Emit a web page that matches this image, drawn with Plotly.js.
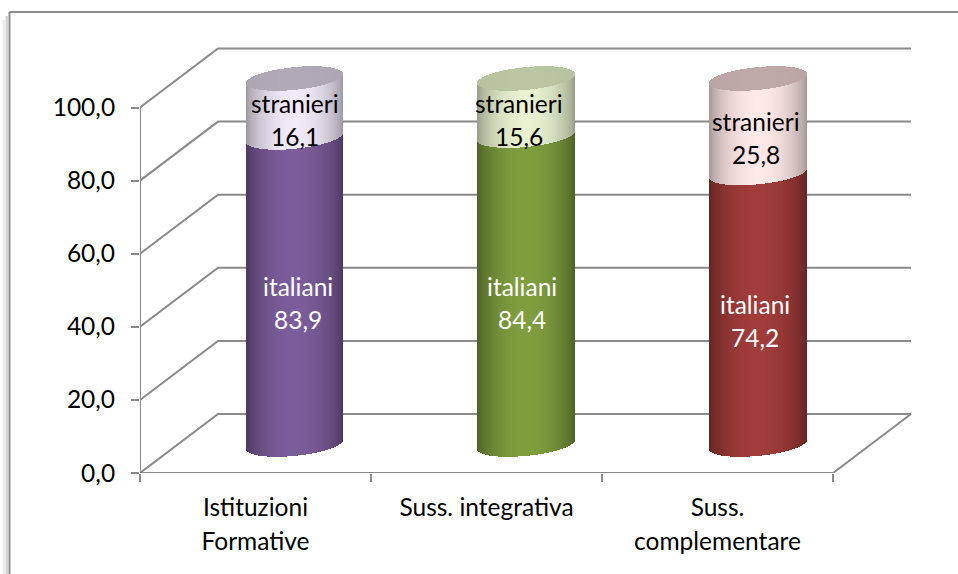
<!DOCTYPE html>
<html><head><meta charset="utf-8">
<script src="https://cdn.plot.ly/plotly-3.0.1.min.js"></script>
<style>html,body{margin:0;padding:0;background:#fff}#c{width:958px;height:574px}</style>
</head><body><div id="c"></div>
<script>
// ---- data ----
const categoriesLine1 = ["Istituzioni", "Suss. integrativa", "Suss."];
const categoriesLine2 = ["Formative", "", "complementare"];
const italiani = [83.9, 84.4, 74.2];
const stranieri = [16.1, 15.6, 25.8];
const yTicks = [0, 20, 40, 60, 80, 100];
const yTickText = ["0,0", "20,0", "40,0", "60,0", "80,0", "100,0"];
const nameIt = "italiani";
const nameSt = "stranieri";
// base colours at the lit centre of each cylinder
const colIt = [[124, 93, 155], [126, 158, 62], [161, 60, 58]];
const colSt = [[241, 234, 249], [232, 242, 208], [255, 232, 232]];
const colCap = [[176, 170, 182], [186, 198, 162], [190, 168, 168]];

// ---- geometry ----
const W = 958, H = 574;
const plotL = 140, plotR = 925, plotT = 30, plotB = 473;
const pxX = 231, pxY = 3.655;          // front axes: px per category, px per percent
const cylPxX = 231.75, cylPxY = 3.66;  // cylinder axes
const depthX = 78 / pxX, depthY = 59 / pxY; // wall depth in axis units
const cylZeroX = 294.5, cylZeroY = 444.5;
const barW = 97.5 / cylPxX;
const capB = 11.4 / cylPxY, capTilt = 4.6 / cylPxY;

const gray = "#8a8a8a";
const traces = [];

// walls and floor on the front axes
const gx = [], gy = [];
function seg(xs, ys) { xs.forEach((v, i) => { gx.push(v); gy.push(ys[i]); }); gx.push(null); gy.push(null); }
const xl = -0.5, xr = 2.5;
yTicks.forEach(v => seg([xl, xl + depthX, xr + depthX], [v, v + depthY, v + depthY]));
seg([xl, xl], [0, 100]);
seg([xl, xr, xr + depthX], [0, 0, depthY]);
traces.push({ type: "scatter", mode: "lines", x: gx, y: gy, xaxis: "x", yaxis: "y", connectgaps: false,
  line: { color: gray, width: 2 }, hoverinfo: "skip", showlegend: false, cliponaxis: false });

// helper traces that carry the two lines of the category labels
["x3", "x4"].forEach(a => traces.push({ type: "scatter", mode: "lines", x: [0, 1, 2], y: [0, 0, 0], xaxis: a, yaxis: "y",
  line: { width: 0, color: "rgba(0,0,0,0)" }, hoverinfo: "skip", showlegend: false }));

// real values
const cats = [0, 1, 2];
traces.push({ type: "bar", name: nameIt, x: cats, y: italiani, width: barW * 0.55, xaxis: "x2", yaxis: "y2",
  marker: { color: colIt.map(c => `rgb(${c})`) }, hoverinfo: "skip", showlegend: false });
traces.push({ type: "bar", name: nameSt, x: cats, y: stranieri, base: italiani, width: barW * 0.55, xaxis: "x2", yaxis: "y2",
  marker: { color: colSt.map(c => `rgb(${c})`) }, hoverinfo: "skip", showlegend: false });

// cylinder shading: one-pixel strips on the same axes
const N = 98, stripW = barW / N;
function shade(c, t, lo) {
  const s = Math.sin(Math.PI * t);
  const f = lo + (1 - lo) * Math.pow(s, 0.62);
  return `rgb(${c.map(v => Math.round(v * f))})`;
}
const st = { ix: [], iy: [], ib: [], ic: [], sx: [], sy: [], sb: [], sc: [], cx: [], cy: [], cb: [], cc: [] };
cats.forEach(k => {
  for (let i = 0; i < N; i++) {
    const t = (i + 0.5) / N, u = 2 * t - 1;
    const x = k + u * barW / 2;
    const arc = capB * Math.sqrt(1 - u * u), tilt = capTilt * u;
    const front = tilt - arc, back = tilt + arc;
    const lvl = italiani[k];
    const top = lvl + stranieri[k];
    st.ix.push(x); st.ib.push(front); st.iy.push(lvl); st.ic.push(shade(colIt[k], t, 0.58));
    st.sx.push(x); st.sb.push(lvl + front); st.sy.push(stranieri[k]); st.sc.push(shade(colSt[k], t, 0.62));
    st.cx.push(x); st.cb.push(top + front); st.cy.push(back - front); st.cc.push(shade(colCap[k], 0.5 + (t - 0.5) * 0.55, 0.9));
  }
});
[["ix", "iy", "ib", "ic"], ["sx", "sy", "sb", "sc"], ["cx", "cy", "cb", "cc"]].forEach(a => {
  traces.push({ type: "bar", x: st[a[0]], y: st[a[1]], base: st[a[2]], width: stripW * 1.02, xaxis: "x2", yaxis: "y2",
    marker: { color: st[a[3]], line: { width: 0 } }, hoverinfo: "skip", showlegend: false });
});

// data labels (name + value) two lines each
const fontName = "Lato, Carlito, sans-serif";
const labelSize = 24.5, gapPx = 16.5, belowPx = -12.5;
const fmt = v => v.toFixed(1).replace(".", ",");
const nudgeIt = [3, -4, -3], nudgeSt = [0, -7, -2];
const annotations = [];
cats.forEach(k => {
  const itMid = italiani[k] / 2, stMid = italiani[k] + stranieri[k] / 2;
  [[itMid, nameIt, italiani[k], "#ffffff", nudgeIt[k]], [stMid, nameSt, stranieri[k], "#000000", nudgeSt[k]]].forEach(r => {
    const base = { x: k, y: r[0], xref: "x2", yref: "y2", showarrow: false, xanchor: "center", yanchor: "middle",
      xshift: r[4], font: { family: fontName, size: labelSize, color: r[3] } };
    annotations.push(Object.assign({}, base, { text: r[1], yshift: belowPx + gapPx }));
    annotations.push(Object.assign({}, base, { text: fmt(r[2]), yshift: belowPx - gapPx }));
  });
});

const frameX = v => (v - plotL) / (plotR - plotL), frameY = v => (plotB - v) / (plotB - plotT);
const shapes = [
  { type: "line", xref: "paper", yref: "paper", x0: frameX(9.5), x1: frameX(958), y0: frameY(12), y1: frameY(12), line: { color: "#8c8c8c", width: 2 } },
  { type: "line", xref: "paper", yref: "paper", x0: frameX(9.5), x1: frameX(9.5), y0: frameY(12), y1: frameY(574), line: { color: "#8c8c8c", width: 2 } },
  { type: "line", xref: "paper", yref: "paper", x0: frameX(7), x1: frameX(7), y0: frameY(16), y1: frameY(574), line: { color: "#d4d4d4", width: 3 } },
  { type: "line", xref: "paper", yref: "paper", x0: frameX(4), x1: frameX(4), y0: frameY(20), y1: frameY(574), line: { color: "#eeeeee", width: 3 } }
];

const xRange = [xl, xl + (plotR - plotL) / pxX];
const axisFont = { family: fontName, size: 24.5, color: "#000" };
const labelAxis = extra => Object.assign({
  overlaying: "x", anchor: "y", side: "bottom", range: xRange, showgrid: false, zeroline: false, showline: false,
  ticks: "", tickvals: cats, tickfont: { family: fontName, size: 24.5, color: "#000" }, tickangle: 0
}, extra);

const layout = {
  width: W, height: H, autosize: false, showlegend: false, barmode: "overlay", bargap: 0,
  paper_bgcolor: "#fff", plot_bgcolor: "rgba(0,0,0,0)", font: { family: fontName },
  margin: { l: plotL, r: W - plotR, t: plotT, b: H - plotB, pad: 0, autoexpand: false },
  xaxis: { range: xRange, showgrid: false, zeroline: false, showline: false, ticks: "outside", ticklen: 8, tickwidth: 2, tickcolor: gray,
    tickvals: [-0.5, 0.5, 1.5, 2.5], ticktext: ["", "", "", ""] },
  yaxis: { range: [0, (plotB - plotT) / pxY], showgrid: false, zeroline: false, showline: false, ticks: "outside", ticklen: 8, tickwidth: 2, tickcolor: gray,
    tickvals: yTicks, ticktext: yTickText, tickfont: axisFont, ticklabelstandoff: 11 },
  xaxis2: { overlaying: "x", anchor: "y2", visible: false, range: [(plotL - cylZeroX) / cylPxX, (plotR - cylZeroX) / cylPxX] },
  yaxis2: { overlaying: "y", anchor: "x2", visible: false, range: [(cylZeroY - plotB) / cylPxY, (cylZeroY - plotT) / cylPxY] },
  xaxis3: labelAxis({ ticktext: categoriesLine1, ticklabelstandoff: 17 }),
  xaxis4: labelAxis({ ticktext: categoriesLine2, ticklabelstandoff: 51 }),
  annotations, shapes
};
Plotly.newPlot("c", traces, layout, { staticPlot: true, displayModeBar: false });
</script></body></html>
